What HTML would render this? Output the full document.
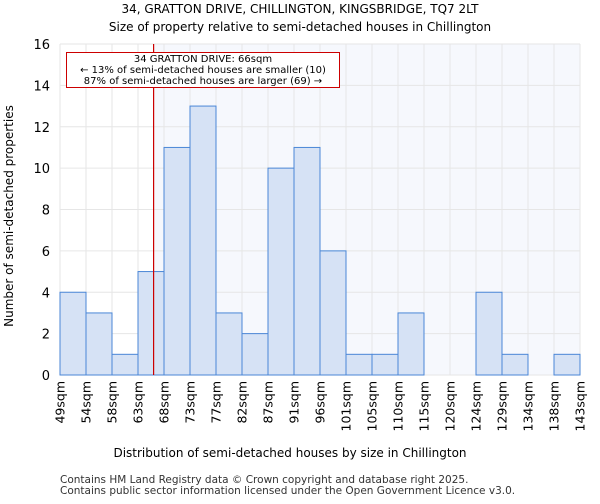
<!DOCTYPE html>
<html><head><meta charset="utf-8"><style>
body{margin:0;background:#fff;font-family:"DejaVu Sans","Liberation Sans",sans-serif;}
</style></head><body>
<svg id="c" width="600" height="500" xmlns="http://www.w3.org/2000/svg" font-family="DejaVu Sans, Liberation Sans, sans-serif">
<text x="300" y="13" text-anchor="middle" font-size="12">34, GRATTON DRIVE, CHILLINGTON, KINGSBRIDGE, TQ7 2LT</text>
<text x="300" y="31" text-anchor="middle" font-size="12">Size of property relative to semi-detached houses in Chillington</text>
<g id="plot"></g>
<text x="290" y="457" text-anchor="middle" font-size="12">Distribution of semi-detached houses by size in Chillington</text>
<text transform="translate(13,216) rotate(-90)" text-anchor="middle" font-size="12">Number of semi-detached properties</text>
<text x="60" y="483" font-size="10.5" fill="#333">Contains HM Land Registry data © Crown copyright and database right 2025.</text>
<text x="60" y="494" font-size="10.5" fill="#333">Contains public sector information licensed under the Open Government Licence v3.0.</text>
</svg>
<script>
const categories=["49sqm","54sqm","58sqm","63sqm","68sqm","73sqm","77sqm","82sqm","87sqm","91sqm","96sqm","101sqm","105sqm","110sqm","115sqm","120sqm","124sqm","129sqm","134sqm","138sqm","143sqm"];
const counts=[4,3,1,5,11,13,3,2,10,11,6,1,1,3,0,0,4,1,0,1];
const yTicks=[0,2,4,6,8,10,12,14,16];
const markerBin=3, markerFrac=0.6;
const X0=60,X1=580,Y0=375,Y1=44,YMAX=16;
const bw=(X1-X0)/counts.length;
const xs=i=>X0+i*bw;
const ys=v=>Y0-(v/YMAX)*(Y0-Y1);
const ns="http://www.w3.org/2000/svg";
const g=document.getElementById('plot');
function mk(t,a){const e=document.createElementNS(ns,t);for(const k in a)e.setAttribute(k,a[k]);g.appendChild(e);return e;}
const mx=xs(markerBin+markerFrac);
let e=mk('rect',{x:X0,y:Y1,width:X1-X0,height:Y0-Y1,fill:'#fff'});


e=mk('rect',{x:mx,y:Y1,width:X1-mx,height:Y0-Y1,fill:'#f6f8fd'});


for(let i=0;i<categories.length;i++){
 e=mk('line',{x1:xs(i),x2:xs(i),y1:Y1,y2:Y0,stroke:'#e6e6e6','stroke-width':1});
 
 
 const t=mk('text',{transform:`translate(${xs(i)+4.5},381) rotate(-90)`,'text-anchor':'end','font-size':12.5});
 t.textContent=categories[i];
 
 
}
yTicks.forEach(v=>{
 e=mk('line',{x1:X0,x2:X1,y1:ys(v),y2:ys(v),stroke:'#e6e6e6','stroke-width':1});
 
 
 const t=mk('text',{x:50,y:ys(v)+5,'text-anchor':'end','font-size':13});
 t.textContent=v;
 
 
});
counts.forEach((v,i)=>{
 if(v<=0)return;
 const r=mk('rect',{x:xs(i),y:ys(v),width:bw,height:Y0-ys(v),fill:'#d6e2f5',stroke:'#4a86d6','stroke-width':1});
 
 
});
e=mk('line',{x1:mx,x2:mx,y1:Y1,y2:Y0,stroke:'#cc0000','stroke-width':1.2});


e=mk('rect',{x:66.5,y:52.5,width:273,height:35,fill:'#fff',stroke:'#cc0000','stroke-width':1});


["34 GRATTON DRIVE: 66sqm","← 13% of semi-detached houses are smaller (10)","87% of semi-detached houses are larger (69) →"].forEach((s,k)=>{
 const t=mk('text',{x:203,y:62+k*11,'text-anchor':'middle','font-size':10});
 t.textContent=s;
 
 
});
</script>
</body></html>
